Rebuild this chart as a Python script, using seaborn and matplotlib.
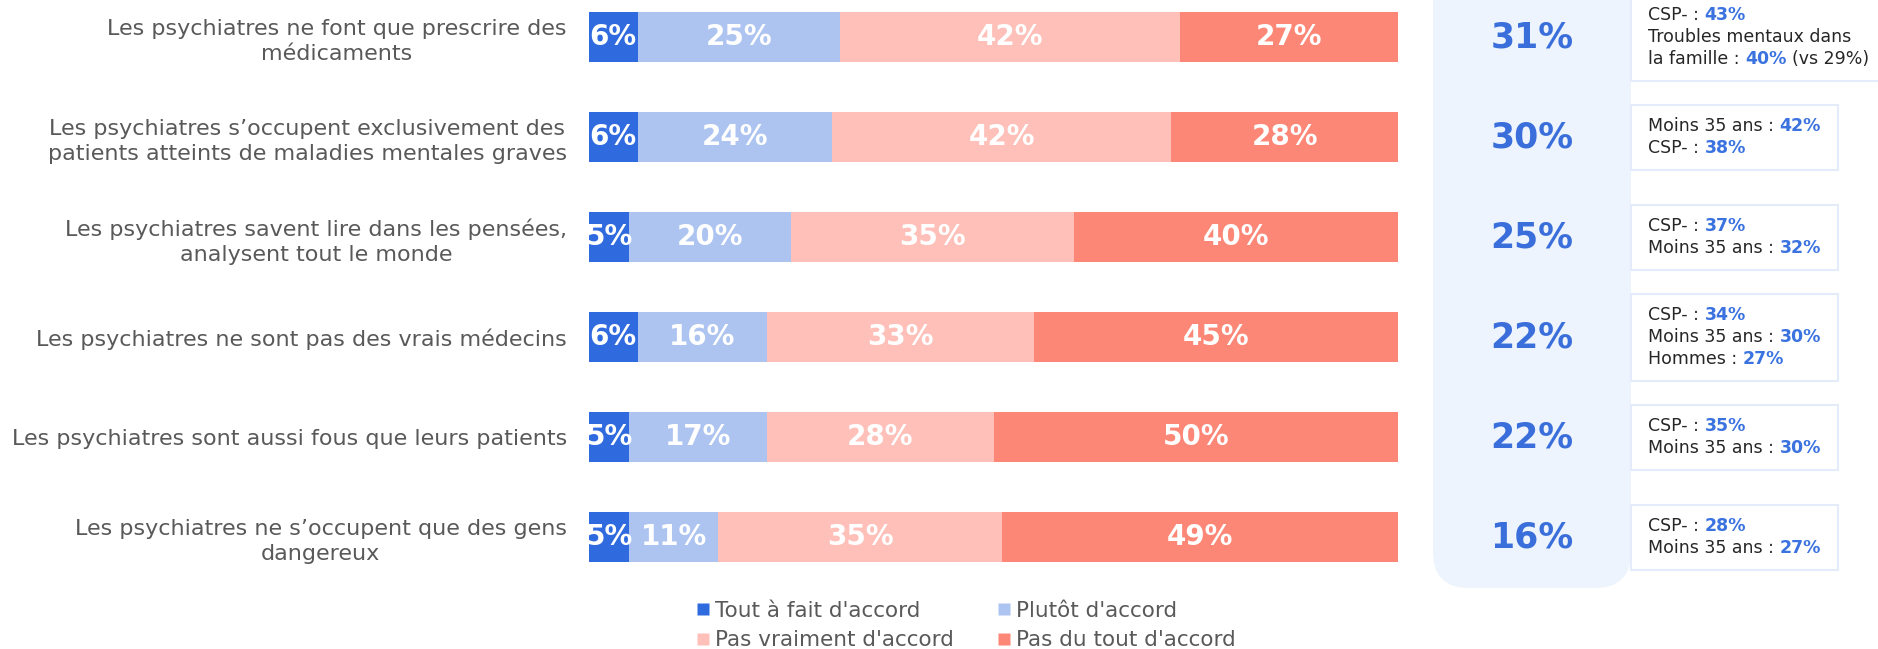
import matplotlib
matplotlib.use("Agg")
import matplotlib.pyplot as plt
import matplotlib.transforms as mtransforms
from matplotlib.patches import FancyBboxPatch, Rectangle
from matplotlib.lines import Line2D
import numpy as np
import seaborn as sns

# ---- data -------------------------------------------------------------
categories = [
    "Les psychiatres ne font que prescrire des\nmédicaments",
    "Les psychiatres s\u2019occupent exclusivement des\npatients atteints de maladies mentales graves",
    "Les psychiatres savent lire dans les pensées,\nanalysent tout le monde",
    "Les psychiatres ne sont pas des vrais médecins",
    "Les psychiatres sont aussi fous que leurs patients",
    "Les psychiatres ne s\u2019occupent que des gens\ndangereux",
]
tout_a_fait = [6, 6, 5, 6, 5, 5]
plutot = [25, 24, 20, 16, 17, 11]
pas_vraiment = [42, 42, 35, 33, 28, 35]
pas_du_tout = [27, 28, 40, 45, 50, 49]

series_names = ["Tout à fait d'accord", "Plutôt d'accord",
                "Pas vraiment d'accord", "Pas du tout d'accord"]
series_colors = ["#2F6BDE", "#ADC4F1", "#FEC0B9", "#FD8776"]

# subgroup highlights: each line is a list of (text, is_value) segments
notes = [
    [[("CSP- :", False), ("43%", True)],
     [("Troubles mentaux dans", False)],
     [("la famille :", False), ("40%", True), ("(vs 29%)", False)]],
    [[("Moins 35 ans :", False), ("42%", True)],
     [("CSP- :", False), ("38%", True)]],
    [[("CSP- :", False), ("37%", True)],
     [("Moins 35 ans :", False), ("32%", True)]],
    [[("CSP- :", False), ("34%", True)],
     [("Moins 35 ans :", False), ("30%", True)],
     [("Hommes :", False), ("27%", True)]],
    [[("CSP- :", False), ("35%", True)],
     [("Moins 35 ans :", False), ("30%", True)]],
    [[("CSP- :", False), ("28%", True)],
     [("Moins 35 ans :", False), ("27%", True)]],
]

series = [tout_a_fait, plutot, pas_vraiment, pas_du_tout]
total_accord = [a + b for a, b in zip(tout_a_fait, plutot)]

# ---- style ------------------------------------------------------------
sns.set_theme(style="white")
plt.rcParams["font.family"] = ["DejaVu Sans"]

W, H = 1878, 649
fig = plt.figure(figsize=(W / 100, H / 100), dpi=100)
fig.patch.set_facecolor("white")

# full-figure overlay in pixel units (decorations)
ov = fig.add_axes([0, 0, 1, 1])
ov.set_xlim(0, W)
ov.set_ylim(H, 0)
ov.axis("off")

# bar axes
bar_left, bar_right, bar_bottom = 589, 1398, 587
ax = fig.add_axes([bar_left / W, (H - bar_bottom) / H,
                   (bar_right - bar_left) / W, bar_bottom / H])
ax.patch.set_alpha(0)

cum = np.cumsum(np.array(series), axis=0)
for k in range(len(series) - 1, -1, -1):
    sns.barplot(x=cum[k], y=categories, orient="h", color=series_colors[k],
                saturation=1, width=0.5, ax=ax, linewidth=0)

for k, vals in enumerate(series):
    for i, v in enumerate(vals):
        left = cum[k][i] - v
        ax.text(left + v / 2, i, f"{v}%", ha="center", va="center",
                color="white", fontsize=20, fontweight="bold")

ax.set_xlim(0, 100)
ax.set_ylim(5.5, -0.37)
ax.set_xticks([])
ax.set_xlabel("")
ax.set_ylabel("")
for s in ax.spines.values():
    s.set_visible(False)
ax.tick_params(axis="y", length=0, pad=16, labelsize=16, labelcolor="#595959")
for t in ax.get_yticklabels():
    t.set_multialignment("center")
    t.set_linespacing(1.3)

# ---- total "accord" column -------------------------------------------
trans = mtransforms.blended_transform_factory(ov.transData, ax.transData)
band = FancyBboxPatch((1433, -80), 1631 - 1433, 588 + 80,
                      boxstyle="round,pad=0,rounding_size=36",
                      fc="#EEF4FD", ec="none", transform=ov.transData)
ov.add_patch(band)
for i, t in enumerate(total_accord):
    ov.text(1532, i, f"{t}%", transform=trans, ha="center", va="center",
            fontsize=25, fontweight="bold", color="#3A6FDB")

# ---- subgroup boxes -----------------------------------------------------
line_step = 0.215
for i, lines in enumerate(notes):
    n = len(lines)
    half = 0.325 if n == 2 else 0.435
    x1 = 1885 if i == 0 else 1838
    ov.add_patch(Rectangle((1631, i - half), x1 - 1631, 2 * half,
                           transform=trans, fc="white", ec="#E4ECFB", lw=1.5))
    for j, segs in enumerate(lines):
        y = i + (j - (n - 1) / 2) * line_step
        prev = None
        for text, is_val in segs:
            kw = dict(fontsize=12.5,
                      color="#3A72E0" if is_val else "#262626",
                      fontweight="bold" if is_val else "normal")
            if prev is None:
                prev = ov.text(1648, y, text, transform=trans, ha="left",
                               va="center", **kw)
            else:
                prev = ov.annotate(text, xy=(1, 0), xycoords=prev,
                                   xytext=(4, 0), textcoords="offset points",
                                   ha="left", va="bottom", **kw)

# ---- legend -------------------------------------------------------------
handles = [Line2D([], [], marker="s", ls="none", markersize=9,
                  markerfacecolor=c, markeredgecolor="none") for c in series_colors]
order = [0, 2, 1, 3]
fig.legend([handles[o] for o in order], [series_names[o] for o in order],
           ncol=2, loc="upper left", bbox_to_anchor=(697 / W, 1 - 601 / H),
           frameon=False, fontsize=15.5, handlelength=0.6, handletextpad=0.25,
           columnspacing=2.0, labelspacing=0.43, labelcolor="#595959",
           borderpad=0, borderaxespad=0)

fig.savefig("out.png", dpi=100, facecolor="white")
